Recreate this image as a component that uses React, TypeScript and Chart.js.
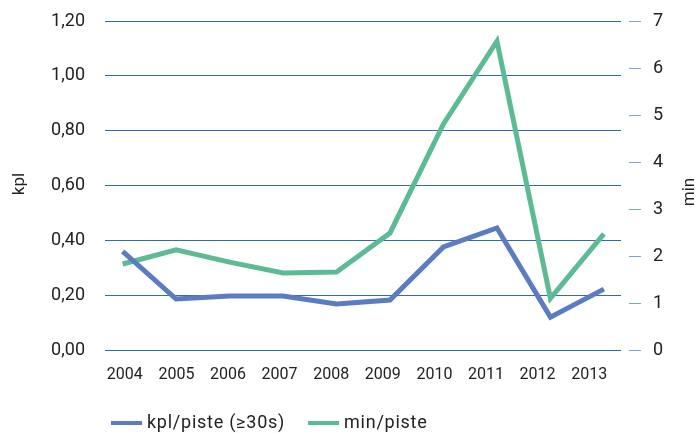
import { useEffect, useRef } from "react";
import { Chart, registerables } from "chart.js";

Chart.register(...registerables);

const years = ["2004", "2005", "2006", "2007", "2008", "2009", "2010", "2011", "2012", "2013"];
const kplPerPiste = [0.36, 0.186, 0.197, 0.197, 0.168, 0.182, 0.376, 0.445, 0.12, 0.222];
const minPerPiste = [1.83, 2.13, 1.87, 1.64, 1.66, 2.49, 4.81, 6.57, 1.1, 2.47];
const seriesNames = ["kpl/piste (≥30s)", "min/piste"];
const leftTitle = "kpl";
const rightTitle = "min";

const BLUE = "#5b7cc0";
const GREEN = "#5cbb95";
const GRID = "#2d6cae";
const TEXT = "#222222";
const FONT = "Roboto";

const overlayPlugin = {
  id: "overlay",
  afterDraw(chart: any) {
    const ctx = chart.ctx;
    const area = chart.chartArea;
    const y1 = chart.scales.y1;
    ctx.save();
    ctx.strokeStyle = "#7aa5d5";
    ctx.lineWidth = 1;
    y1.ticks.forEach((t: any) => {
      const py = Math.round(y1.getPixelForValue(t.value)) + 0.5;
      ctx.beginPath();
      ctx.moveTo(area.right + 8, py);
      ctx.lineTo(area.right + 20, py);
      ctx.stroke();
    });
    ctx.fillStyle = TEXT;
    ctx.font = `17px ${FONT}`;
    ctx.textAlign = "center";
    ctx.textBaseline = "middle";
    ctx.save();
    ctx.translate(20, 184);
    ctx.rotate(-Math.PI / 2);
    ctx.fillText(leftTitle, 0, 0);
    ctx.restore();
    ctx.save();
    ctx.translate(690, 192);
    ctx.rotate(-Math.PI / 2);
    ctx.fillText(rightTitle, 0, 0);
    ctx.restore();
    const colors = [BLUE, GREEN];
    let x = 111;
    const ly = 423;
    ctx.textAlign = "left";
    ctx.font = `18px ${FONT}`;
    try {
      (ctx as any).letterSpacing = "0.75px";
    } catch (e) {}
    seriesNames.forEach((name, i) => {
      ctx.strokeStyle = colors[i];
      ctx.lineWidth = 4;
      ctx.beginPath();
      ctx.moveTo(x, ly);
      ctx.lineTo(x + 31, ly);
      ctx.stroke();
      ctx.fillStyle = TEXT;
      ctx.fillText(name, x + 36, ly);
      x += 36 + ctx.measureText(name).width + 23;
    });
    ctx.restore();
  },
};

export default function App() {
  const ref = useRef<HTMLCanvasElement>(null);
  useEffect(() => {
    document.body.style.margin = "0";
    const chart = new Chart(ref.current!, {
      type: "line",
      data: {
        labels: years,
        datasets: [
          {
            label: seriesNames[0],
            data: kplPerPiste.map((v, i) => ({ x: i, y: v })),
            borderColor: BLUE,
            backgroundColor: BLUE,
            borderWidth: 5,
            pointRadius: 0,
            tension: 0,
            xAxisID: "xd",
            yAxisID: "y",
            order: 1,
          },
          {
            label: seriesNames[1],
            data: minPerPiste.map((v, i) => ({ x: i, y: v })),
            borderColor: GREEN,
            backgroundColor: GREEN,
            borderWidth: 5,
            pointRadius: 0,
            tension: 0,
            xAxisID: "xd",
            yAxisID: "y1",
            order: 2,
          },
        ],
      },
      options: {
        responsive: false,
        animation: false,
        layout: { padding: { top: 21, left: 0, right: 0, bottom: 0 } },
        plugins: { legend: { display: false }, tooltip: { enabled: false } },
        scales: {
          x: {
            type: "category",
            offset: true,
            grid: { display: false, drawTicks: false },
            border: { display: false },
            ticks: {
              color: TEXT,
              font: { family: FONT, size: 16 },
              padding: 15,
              labelOffset: -6,
              maxRotation: 0,
              autoSkip: false,
            },
            afterFit: (s: any) => {
              s.height = 83;
            },
          },
          xd: {
            type: "linear",
            position: "bottom",
            display: false,
            min: -0.33,
            max: 9.32,
          },
          y: {
            position: "left",
            min: 0,
            max: 1.2,
            border: { display: false },
            grid: {
              color: GRID,
              lineWidth: 1,
              drawTicks: true,
              tickLength: 20,
              tickColor: "rgba(0,0,0,0)",
            },
            ticks: {
              stepSize: 0.2,
              color: TEXT,
              font: { family: FONT, size: 18 },
              padding: 0,
              callback: (v: any) => Number(v).toFixed(2).replace(".", ","),
            },
            afterFit: (s: any) => {
              s.width = 105;
            },
          },
          y1: {
            position: "right",
            min: 0,
            max: 7,
            border: { display: false },
            grid: {
              display: true,
              drawOnChartArea: false,
              drawTicks: true,
              tickLength: 32,
              tickColor: "rgba(0,0,0,0)",
            },
            ticks: {
              stepSize: 1,
              color: TEXT,
              font: { family: FONT, size: 18 },
              padding: 0,
            },
            afterFit: (s: any) => {
              s.width = 76;
            },
          },
        },
      },
      plugins: [overlayPlugin],
    });
    return () => chart.destroy();
  }, []);
  return (
    <div style={{ width: 697, height: 433 }}>
      <canvas ref={ref} width={697} height={433} style={{ display: "block" }} />
    </div>
  );
}
